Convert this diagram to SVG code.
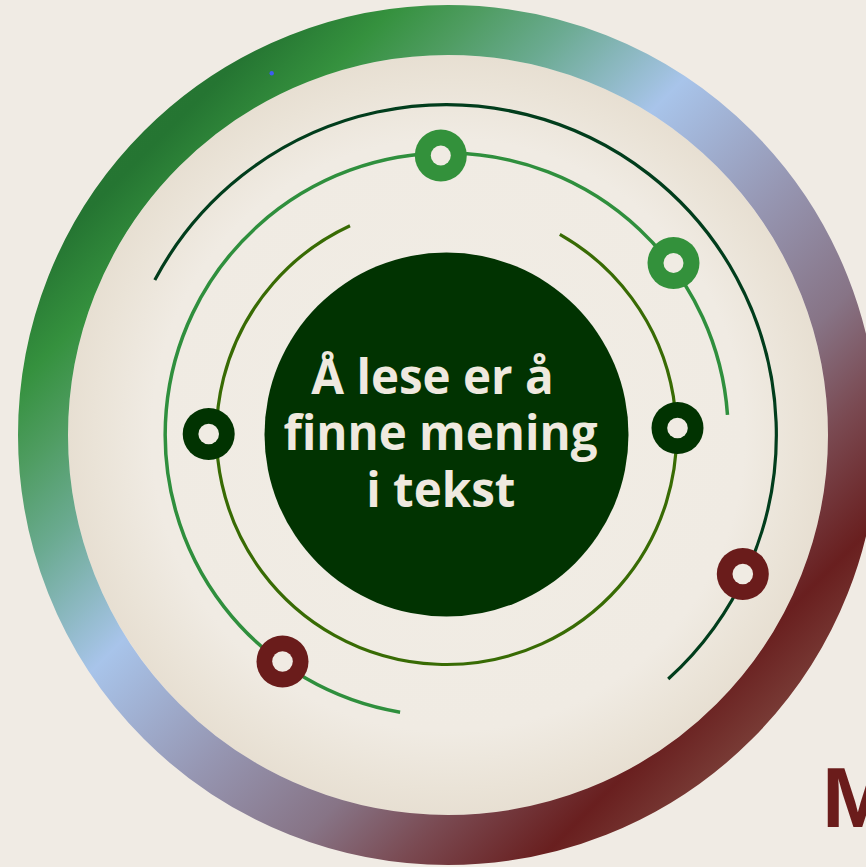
<svg xmlns="http://www.w3.org/2000/svg" width="866" height="867" viewBox="0 0 866 867">
  <style>
    .arc { fill: none; stroke-linecap: butt; }
    .hole { fill: #f0ebe3; }
    .title { font-family: "Open Sans", "Noto Sans", "Liberation Sans", sans-serif; font-weight: 700; font-size: 47.5px; fill: #efe9df; text-anchor: middle; }
    .heading { font-family: "Liberation Sans", Arial, sans-serif; font-weight: 700; font-size: 86px; fill: #6b1c1b; }
  </style>
  <defs>
    <linearGradient id="ringGrad" gradientUnits="userSpaceOnUse" x1="18" y1="5" x2="878" y2="865">
      <stop offset="0" stop-color="#2a7a36"/>
      <stop offset="0.16" stop-color="#257532"/>
      <stop offset="0.22" stop-color="#35913e"/>
      <stop offset="0.27" stop-color="#4e9c60"/>
      <stop offset="0.33" stop-color="#6aaa90"/>
      <stop offset="0.43" stop-color="#a8c4ea"/>
      <stop offset="0.55" stop-color="#9696b2"/>
      <stop offset="0.65" stop-color="#877486"/>
      <stop offset="0.72" stop-color="#7a4a52"/>
      <stop offset="0.8" stop-color="#691f1f"/>
      <stop offset="0.86" stop-color="#7a3e38"/>
      <stop offset="1" stop-color="#6a2a28"/>
    </linearGradient>
    <radialGradient id="diskGrad" cx="448" cy="435" r="380" gradientUnits="userSpaceOnUse">
      <stop offset="0" stop-color="#f1ede5"/>
      <stop offset="0.78" stop-color="#f0ebe3"/>
      <stop offset="0.93" stop-color="#eae3d7"/>
      <stop offset="1" stop-color="#e7dfd2"/>
    </radialGradient>
  </defs>

  <rect x="0" y="0" width="866" height="867" fill="#f0ebe4"/>

  <g id="frame">
    <circle cx="448" cy="435" r="380" fill="url(#diskGrad)"/>
    <circle cx="448" cy="435" r="405" fill="none" stroke="url(#ringGrad)" stroke-width="50"/>
    <circle cx="271.7" cy="73.3" r="2.2" fill="#3d5cf2"/>
  </g>

  <g id="connectors">
    <path class="arc" d="M154.8,280.1 A330,330 0 1 1 668.2,679" stroke="#013d1c" stroke-width="3.2"/>
    <path class="arc" d="M400.1,712.2 A281.5,281.5 0 1 1 727.5,414.9" stroke="#2f8f3d" stroke-width="3.5"/>
    <path class="arc" d="M559.8,234.3 A230,230 0 1 1 350,225.7" stroke="#386b04" stroke-width="3.2"/>
  </g>

  <g id="node-center">
    <circle cx="446.5" cy="434.5" r="182" fill="#013301"/>
    <text class="title" x="432.5" y="393.5">Å lese er å</text>
    <text class="title" x="440.5" y="450">finne mening</text>
    <text class="title" x="440.8" y="506.7">i tekst</text>
  </g>

  <g id="node-top">
    <circle cx="440.8" cy="155.5" r="26" fill="#33913b"/>
    <circle class="hole" cx="440.8" cy="155.5" r="10"/>
  </g>
  <g id="node-upper-right">
    <circle cx="673.5" cy="263" r="26" fill="#33913b"/>
    <circle class="hole" cx="673.5" cy="263" r="10"/>
  </g>
  <g id="node-left">
    <circle cx="208.7" cy="434" r="26" fill="#013301"/>
    <circle class="hole" cx="208.7" cy="434" r="10.3"/>
  </g>
  <g id="node-right">
    <circle cx="677.5" cy="428" r="26" fill="#013301"/>
    <circle class="hole" cx="677.5" cy="428" r="10.3"/>
  </g>
  <g id="node-lower-right">
    <circle cx="742.8" cy="574" r="26" fill="#6a1c1b"/>
    <circle class="hole" cx="742.8" cy="574" r="10.3"/>
  </g>
  <g id="node-lower-left">
    <circle cx="282.5" cy="661.5" r="26" fill="#6a1c1b"/>
    <circle class="hole" cx="282.5" cy="661.5" r="10.3"/>
  </g>

  <g id="title-fragment">
    <text class="heading" x="822" y="826.7">M</text>
  </g>
</svg>
